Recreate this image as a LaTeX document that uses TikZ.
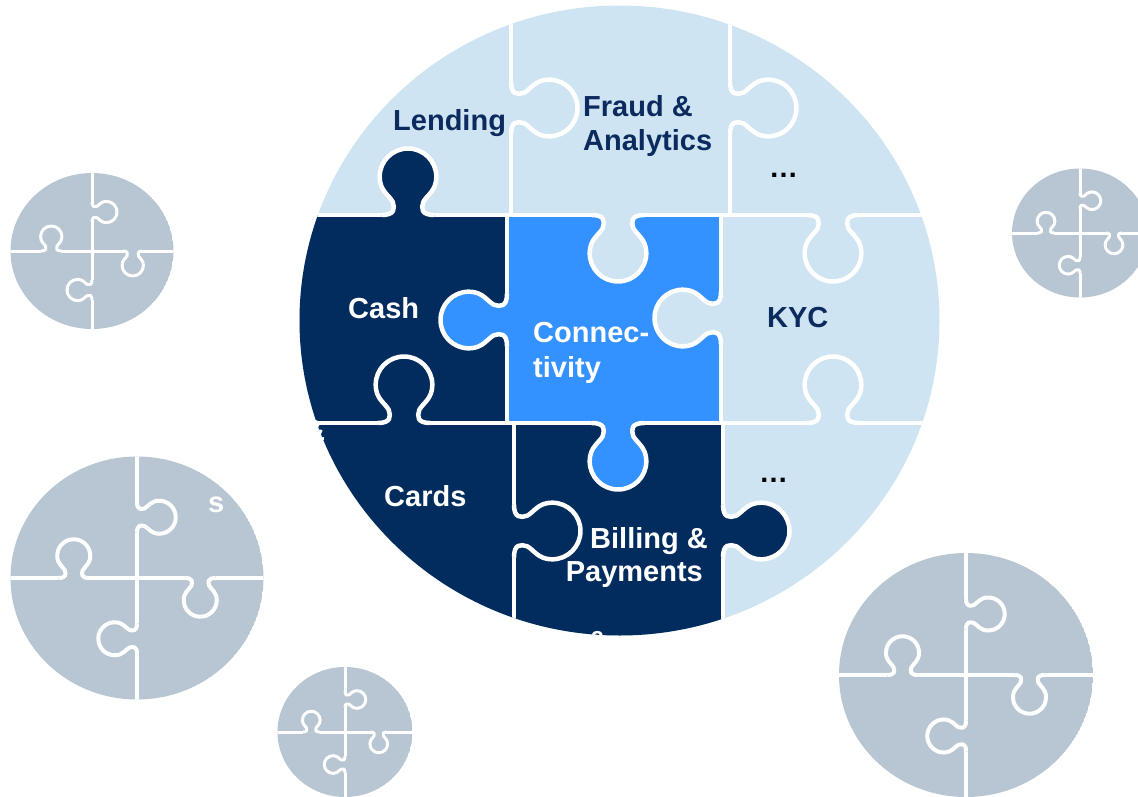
\documentclass[tikz,border=0pt]{standalone}
\usepackage{fontspec}
\setmainfont{Liberation Sans}
\definecolor{navy}{RGB}{3,44,94}
\definecolor{brightb}{RGB}{51,146,255}
\definecolor{lightb}{RGB}{207,228,243}
\definecolor{greyb}{RGB}{184,197,211}
\definecolor{txtnavy}{RGB}{11,43,94}
% jigsaw tab: #1 x, #2 y, #3 rotation, #4 scale, #5 owner colour, #6 line width
\newcommand{\jtab}[6]{%
  \begin{scope}[shift={({#1},{#2})},rotate=#3,scale=#4]
    \fill[#5] (-0.121,-0.05) -- (-0.12,0) .. controls (-0.06,0) and (-0.06,0.03) .. (-0.07,0.06)
      .. controls (-0.085,0.09) and (-0.13,0.11) .. (-0.13,0.175)
      .. controls (-0.13,0.247) and (-0.072,0.305) .. (0,0.305)
      .. controls (0.072,0.305) and (0.13,0.247) .. (0.13,0.175)
      .. controls (0.13,0.11) and (0.085,0.09) .. (0.07,0.06)
      .. controls (0.06,0.03) and (0.06,0) .. (0.12,0) -- (0.121,-0.05) -- cycle;
    \draw[white,line width=#6] (-0.12,0) .. controls (-0.06,0) and (-0.06,0.03) .. (-0.07,0.06)
      .. controls (-0.085,0.09) and (-0.13,0.11) .. (-0.13,0.175)
      .. controls (-0.13,0.247) and (-0.072,0.305) .. (0,0.305)
      .. controls (0.072,0.305) and (0.13,0.247) .. (0.13,0.175)
      .. controls (0.13,0.11) and (0.085,0.09) .. (0.07,0.06)
      .. controls (0.06,0.03) and (0.06,0) .. (0.12,0);
  \end{scope}}
% grey four-piece puzzle: #1 cx, #2 cy, #3 rx, #4 ry, #5 line width, #6 tab scale
\newcommand{\greypuzzle}[6]{%
  \begin{scope}
    \clip (#1,#2) ellipse [x radius=#3, y radius=#4];
    \fill[greyb] (#1,#2) ellipse [x radius=#3, y radius=#4];
    \draw[white,line width=#5] ({#1},{#2-#4-3}) -- ({#1},{#2+#4+3});
    \draw[white,line width=#5] ({#1-#3-3},{#2}) -- ({#1+#3+3},{#2});
    \jtab{#1}{#2-0.5*#4}{90}{#6}{greyb}{#5}
    \jtab{#1+0.5*#3}{#2}{0}{#6}{greyb}{#5}
    \jtab{#1}{#2+0.5*#4}{-90}{#6}{greyb}{#5}
    \jtab{#1-0.5*#3}{#2}{180}{#6}{greyb}{#5}
  \end{scope}}
\tikzset{
  lbl/.style={font=\bfseries\fontsize{29}{34}\selectfont, inner sep=0pt},
  cutline/.style={white, line width=4.5pt}
}
\begin{document}
\begin{tikzpicture}[x=1pt,y=-1pt]
\useasboundingbox (0,0) rectangle (1138,797);
\clip (0,0) rectangle (1138,797);
% grey side puzzles
\greypuzzle{92}{251}{81.5}{78}{3pt}{82}
\greypuzzle{1080}{233}{68}{64.5}{3pt}{68}
\greypuzzle{137}{578}{126.5}{121.5}{4pt}{127}
\greypuzzle{345}{732}{67.5}{65}{3pt}{68}
\greypuzzle{966}{675}{127}{122}{4pt}{127}
% main puzzle
\begin{scope}
  \clip (619.5,320.5) ellipse [x radius=320, y radius=315];
  \fill[lightb] (250,-10) rectangle (1000,700);
  \fill[navy] (250,215) rectangle (507,423);
  \fill[brightb] (507,215) rectangle (721,423);
  \fill[navy] (250,423) rectangle (514,700);
  \fill[navy] (514,423) rectangle (723,700);
  \draw[cutline] (250,215) -- (1000,215);
  \draw[cutline] (250,423) -- (1000,423);
  \draw[cutline] (511,-10) -- (511,215);
  \draw[cutline] (730,-10) -- (730,215);
  \draw[cutline] (507,215) -- (507,423);
  \draw[cutline] (721,215) -- (721,423);
  \draw[cutline] (514,423) -- (514,700);
  \draw[cutline] (723,423) -- (723,700);
  \jtab{408}{215}{180}{218}{navy}{4.5pt}
  \jtab{618}{215}{0}{218}{lightb}{4.5pt}
  \jtab{833}{215}{0}{218}{lightb}{4.5pt}
  \jtab{404}{423}{180}{218}{navy}{4.5pt}
  \jtab{618}{423}{0}{218}{brightb}{4.5pt}
  \jtab{833}{423}{180}{218}{lightb}{4.5pt}
  \jtab{511}{108}{90}{218}{lightb}{4.5pt}
  \jtab{730}{108}{90}{218}{lightb}{4.5pt}
  \jtab{507}{320}{-90}{218}{brightb}{4.5pt}
  \jtab{721}{318}{-90}{218}{lightb}{4.5pt}
  \jtab{514}{531}{90}{218}{navy}{4.5pt}
  \jtab{723}{531}{90}{218}{navy}{4.5pt}
\end{scope}
% labels
\node[lbl, text=txtnavy, anchor=base west] (lending) at (393,131) {Lending};
\node[lbl, text=txtnavy, anchor=base west] (fraudA) at (583,117) {Fraud \&};
\node[lbl, text=txtnavy, anchor=base west] (fraudB) at (583,151) {Analytics};
\node[lbl, text=black, anchor=base west] (dotsA) at (769,177) {\char"2026};
\node[lbl, text=white, anchor=base west] (cash) at (348,318) {Cash};
\node[lbl, text=white, anchor=base west] (connA) at (533,342) {Connec-};
\node[lbl, text=white, anchor=base west] (connB) at (533,377) {tivity};
\node[lbl, text=txtnavy, anchor=base west] (kyc) at (767,327) {KYC};
\node[lbl, text=white, anchor=base west] (cards) at (384,506) {Cards};
\node[lbl, text=black, anchor=base west] (dotsB) at (759,482) {\char"2026};
\node[lbl, text=white, anchor=base east] (billA) at (708,548) {Billing \&};
\node[lbl, text=white, anchor=base east] (billB) at (703,581) {Payments};
% cut-off text fragments
\node[lbl, text=white, anchor=base west] (fragA) at (304,440) {\&};
\node[lbl, text=white, anchor=base west] (fragB) at (208,512) {s};
\node[lbl, text=white, anchor=base west] (fragC) at (587,651) {\&};
\end{tikzpicture}
\end{document}
